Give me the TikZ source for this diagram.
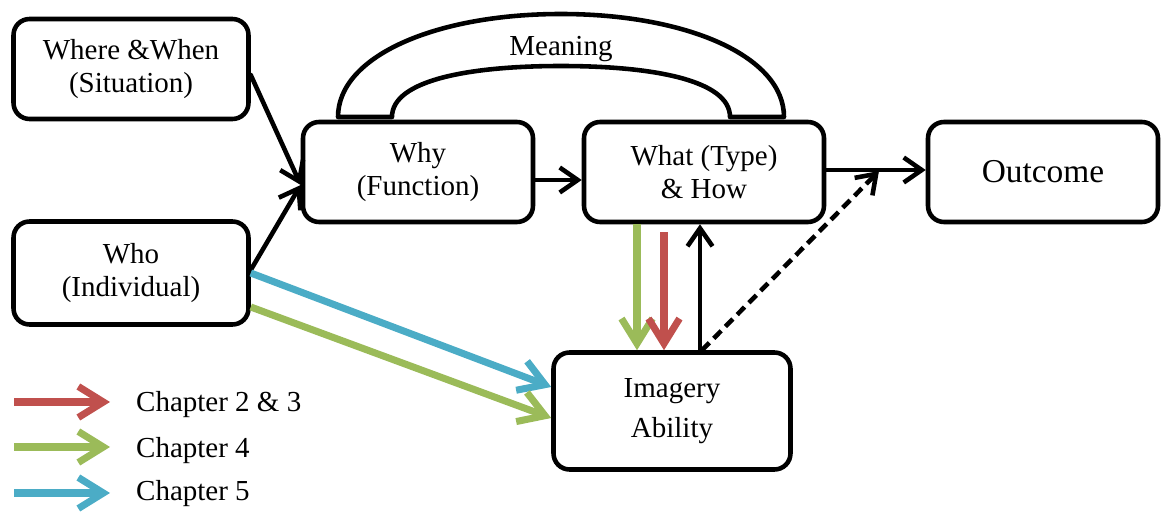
\documentclass[tikz,border=0pt]{standalone}
\usepackage{fontspec}
\setmainfont{Liberation Serif}
\usetikzlibrary{arrows.meta}
\usetikzlibrary{calc}
\definecolor{chapred}{RGB}{192,80,77}
\definecolor{chapgreen}{RGB}{155,187,89}
\definecolor{chapblue}{RGB}{75,172,198}

\begin{document}
\begin{tikzpicture}[x=0.02cm,y=-0.02cm,line join=round,
  main node/.style={rectangle,rounded corners=0.32cm,draw,line width=2.6pt,align=center,
    font=\fontsize{16.5}{18.5}\selectfont,minimum width=4.7cm,minimum height=2cm},
  black arrow/.style={line width=2.6pt,line cap=round,-{Straight Barb[length=3.6mm,width=5mm]}},
  chapter arrow/.style={line width=4pt,-{Straight Barb[length=5mm,width=6.2mm]}},
  legend text/.style={anchor=west,font=\fontsize{16.5}{18.5}\selectfont}]

  \useasboundingbox (0,0) rectangle (1161,513);

  \node[main node] (1) at (131,69) {Where \&When\\(Situation)};
  \node[main node,minimum height=2.06cm] (2) at (131,273) {Who\\(Individual)};
  \node[main node,minimum width=4.6cm] (3) at (418,172) {Why\\(Function)};
  \node[main node,minimum width=4.8cm] (4) at (704,172) {What (Type)\\\& How};
  \node[main node,minimum width=4.6cm,font=\fontsize{19}{21}\selectfont] (5) at (1043,172) {Outcome};
  \node[main node,minimum width=4.74cm,minimum height=2.34cm] (6) at (672,411) {Imagery\\[4pt]Ability};

  \draw[line width=2.6pt]
    (338,117) .. controls (338,56) and (436,14) .. (561,14)
    .. controls (686,14) and (784,56) .. (784,117) -- (730,117)
    .. controls (730,80) and (652,66) .. (561,66)
    .. controls (470,66) and (392,80) .. (392,117) -- cycle;
  \node[font=\fontsize{16.5}{18.5}\selectfont] (m) at (561,49) {Meaning};

  \draw[black arrow] ($(1.east)+(0,6)$) -- ($(3.west)+(0,13)$);
  \draw[black arrow] ($(2.east)+(0,-3)$) -- ($(3.west)+(0,13)$);
  \draw[black arrow] ($(3.east)+(0,8)$) -- ($(4.west)+(0,8)$);
  \draw[black arrow] ($(4.east)+(0,-2)$) -- ($(5.west)+(0,-2)$);
  \draw[black arrow] ($(6.north)+(28,0)$) -- ($(4.south)+(-4,0)$);
  \draw[black arrow,line cap=butt,dash pattern=on 6pt off 3.5pt] ($(6.north)+(30,0)$) -- ($(4.east)!0.53!(5.west)+(0,-1)$);

  \draw[chapter arrow,chapgreen] ($(4.south)+(-67,0)$) -- ($(6.north)+(-35,0)$);
  \draw[chapter arrow,chapred] ($(4.south)+(-40,8)$) -- ($(6.north)+(-8,0)$);
  \draw[chapter arrow,chapblue] (2.east) -- ($(6.west)+(0,-24)$);
  \draw[chapter arrow,chapgreen] ($(2.east)+(0,34)$) -- ($(6.west)+(0,7)$);

  \coordinate (r1) at (14,402);
  \coordinate (r2) at (110,402);
  \coordinate (g1) at (14,447);
  \coordinate (g2) at (110,447);
  \coordinate (b1) at (14,493);
  \coordinate (b2) at (110,493);
  \draw[chapter arrow,chapred] (r1) -- (r2);
  \draw[chapter arrow,chapgreen] (g1) -- (g2);
  \draw[chapter arrow,chapblue] (b1) -- (b2);
  \node[legend text] (l1) at (130,405) {Chapter 2 \& 3};
  \node[legend text] (l2) at (130,451) {Chapter 4};
  \node[legend text] (l3) at (130,494) {Chapter 5};
\end{tikzpicture}
\end{document}
